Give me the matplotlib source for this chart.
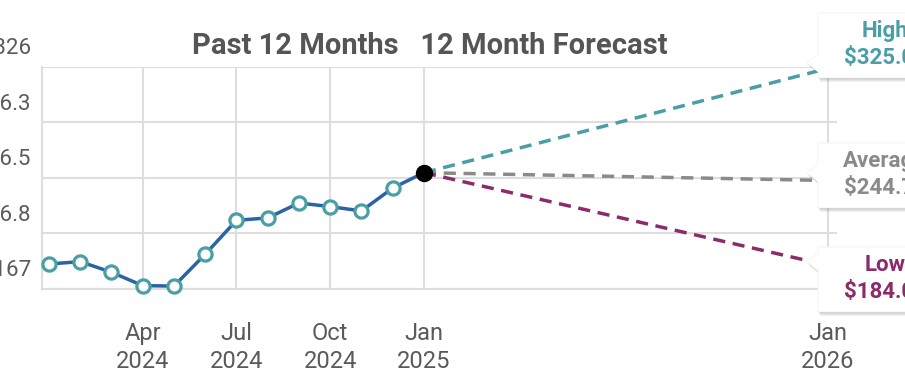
import matplotlib
matplotlib.use("Agg")
import matplotlib.pyplot as plt
from matplotlib.patches import Polygon
from matplotlib.transforms import ScaledTranslation

plt.rcParams['font.family'] = ['Roboto', 'DejaVu Sans']

# past 12 months (monthly, Jan 2024 .. Jan 2025)
past_months = list(range(13))
past_prices = [184.9, 186.6, 179.0, 169.4, 169.1, 191.9, 216.2,
               217.9, 228.6, 226.0, 222.9, 239.3, 250.3]

# 12 month forecast end values
forecast_names = ['High', 'Average', 'Low']
forecast_values = [325.0, 244.7, 184.0]
forecast_text = ['$325.00', '$244.70', '$184.00']
forecast_colors = ['#4a9fa6', '#8a8a8a', '#8b2b69']

x_ticks_months = [3, 6, 9, 12, 24]
x_tick_labels = ['Apr\n2024', 'Jul\n2024', 'Oct\n2024', 'Jan\n2025', 'Jan\n2026']
y_ticks = [167, 206.8, 246.5, 286.3, 326]
y_tick_labels = ['$167', '$206.8', '$246.5', '$286.3', '$326']

# forecast half of the axis is drawn a bit wider than the past half
FORECAST_STRETCH = 1.077


def to_x(m):
    return m if m <= 12 else 12 + (m - 12) * FORECAST_STRETCH


W, H = 905, 388
fig = plt.figure(figsize=(W / 100, H / 100), dpi=100)
ax = fig.add_axes([42 / W, (H - 289) / H, (837 - 42) / W, (289 - 67) / H])

grid_c = '#dedede'
ax.set_xlim(-0.224, 25.22)
ax.set_ylim(167, 326)
ax.set_yticks(y_ticks)
ax.set_yticklabels(y_tick_labels)
ax.set_xticks([to_x(m) for m in x_ticks_months])
ax.set_xticklabels(x_tick_labels, linespacing=1.25)
ax.grid(True, color=grid_c, linewidth=1.5)
ax.set_axisbelow(True)
for s in ['top', 'right']:
    ax.spines[s].set_visible(False)
for s in ['left', 'bottom']:
    ax.spines[s].set_color(grid_c)
    ax.spines[s].set_linewidth(1.5)
ax.tick_params(length=0, labelcolor='#5a5a5a')
ax.tick_params(axis='x', pad=24, labelsize=17)
ax.tick_params(axis='y', pad=7.5, labelsize=16)
for lab in ax.get_yticklabels():
    lab.set_transform(lab.get_transform() + ScaledTranslation(0, 15 / 72, fig.dpi_scale_trans))

# forecast lines
x0, y0 = past_months[-1], past_prices[-1]
for val, c in zip(forecast_values, forecast_colors):
    ax.plot([to_x(x0), to_x(24)], [y0, val], color=c, linewidth=2.5,
            dashes=(3.5, 2.2), zorder=3, clip_on=False)

ax.plot([to_x(m) for m in past_months], past_prices, color='#2c62a6', linewidth=2.5,
        marker='o', markersize=9.5, markerfacecolor='white', markeredgecolor='#4a9fa6',
        markeredgewidth=2.3, zorder=4, clip_on=False)
ax.plot([to_x(x0)], [y0], 'o', color='black', markersize=11.5, zorder=5, clip_on=False)

# overlay in pixel coordinates for title and callout boxes
ov = fig.add_axes([0, 0, 1, 1], zorder=10)
ov.set_xlim(0, W)
ov.set_ylim(H, 0)
ov.axis('off')
ov.patch.set_visible(False)

ov.text(430, 46, 'Past 12 Months   12 Month Forecast', ha='center', va='center',
        fontsize=21, fontweight='bold', color='#555555')

box_tops = [13, 143, 247]
pointer_y = [63, 173, 262]
for top, py, name, txt, c in zip(box_tops, pointer_y, forecast_names, forecast_text, forecast_colors):
    bot = top + 65
    pts = [(818, top), (980, top), (980, bot), (818, bot), (818, py + 9), (807, py), (818, py - 9)]
    for off, a in [(4, 0.06), (2.5, 0.08), (1.2, 0.1)]:
        ov.add_patch(Polygon([(x + off * 0.6, y + off) for x, y in pts], closed=True,
                             facecolor='black', alpha=a, edgecolor='none'))
    ov.add_patch(Polygon(pts, closed=True, facecolor='white', edgecolor='#f0f0f0', linewidth=0.5))
    ov.text(885, top + 18, name, ha='center', va='center', fontsize=16,
            fontweight='bold', color=c)
    ov.text(885, top + 45, txt, ha='center', va='center', fontsize=16,
            fontweight='bold', color=c)

fig.savefig('out.png', dpi=100)
